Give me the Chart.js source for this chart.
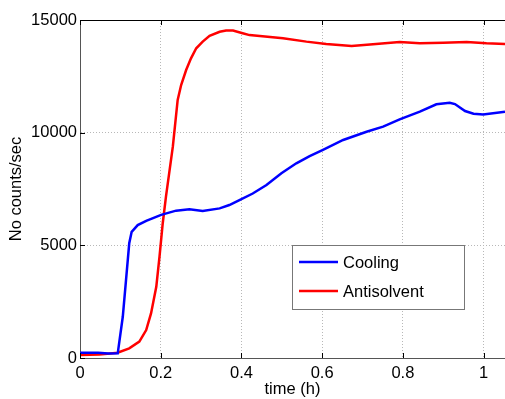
<!doctype html>
<html>
<head>
  <meta charset="utf-8" />
  <title>Counts vs time</title>
  <script src="https://cdn.jsdelivr.net/npm/chart.js"></script>
  <style>
    html, body { margin: 0; padding: 0; background: #fff; }
    #wrap { width: 505px; height: 399px; }
  </style>
</head>
<body>
  <div id="wrap"><canvas id="chart" width="505" height="399"></canvas></div>

  <script>
    // values
    const coolingTime = [0, 0.045, 0.07, 0.0935, 0.106, 0.114, 0.122, 0.128, 0.143, 0.164, 0.201, 0.238, 0.271, 0.304, 0.346, 0.37, 0.395, 0.428, 0.462, 0.499, 0.536, 0.569, 0.602, 0.652, 0.71, 0.751, 0.792, 0.842, 0.883, 0.916, 0.929, 0.954, 0.975, 0.999, 1.053];
    const coolingCounts = [230, 230, 195, 205, 1830, 3460, 5090, 5600, 5900, 6090, 6350, 6540, 6600, 6520, 6640, 6790, 7010, 7300, 7680, 8200, 8640, 8960, 9240, 9675, 10040, 10270, 10590, 10930, 11260, 11330, 11270, 10960, 10840, 10810, 10930];

    const antiTime = [0, 0.048, 0.093, 0.122, 0.147, 0.164, 0.176, 0.189, 0.197, 0.205, 0.213, 0.23, 0.242, 0.2506, 0.263, 0.275, 0.288, 0.304, 0.321, 0.346, 0.362, 0.379, 0.403, 0.42, 0.503, 0.561, 0.61, 0.673, 0.726, 0.792, 0.842, 0.9, 0.958, 1.007, 1.053];
    const antiCounts = [133, 150, 235, 430, 725, 1240, 1980, 3160, 4500, 5980, 7160, 9380, 11450, 12115, 12780, 13300, 13745, 14040, 14300, 14480, 14530, 14530, 14410, 14330, 14190, 14040, 13935, 13850, 13920, 14020, 13965, 13990, 14020, 13965, 13935];

    const seriesNames = ["Cooling", "Antisolvent"];
    const seriesColors = ["#0000ff", "#ff0000"];

    const xTicks = [0, 0.2, 0.4, 0.6, 0.8, 1];
    const yTicks = [0, 5000, 10000, 15000];

    const toPoints = (xs, ys) => xs.map((x, i) => ({ x: x, y: ys[i] }));

    const font = { family: "Arial, 'Liberation Sans', sans-serif", size: 16.5 };

    // box top line, inward tick marks and the legend inside the plot
    const matlabBox = {
      id: "matlabBox",
      afterDatasetsDraw(chart) {
        const { ctx, chartArea: a, scales } = chart;
        ctx.save();
        ctx.strokeStyle = "#000";
        ctx.lineWidth = 1;
        ctx.beginPath();
        ctx.moveTo(a.left, a.top + 0.5);
        ctx.lineTo(a.right, a.top + 0.5);
        xTicks.forEach(t => {
          const px = Math.round(scales.x.getPixelForValue(t)) + 0.5;
          ctx.moveTo(px, a.top); ctx.lineTo(px, a.top + 5);
          ctx.moveTo(px, a.bottom); ctx.lineTo(px, a.bottom - 5);
        });
        yTicks.forEach(v => {
          const py = Math.round(scales.y.getPixelForValue(v)) + 0.5;
          ctx.moveTo(a.left, py); ctx.lineTo(a.left + 5, py);
        });
        ctx.stroke();

        // legend box
        const lx = 292, ly = 245, lw = 172, lh = 64;
        ctx.fillStyle = "#fff";
        ctx.fillRect(lx, ly, lw, lh);
        ctx.strokeStyle = "#777";
        ctx.strokeRect(lx + 0.5, ly + 0.5, lw, lh);
        ctx.font = font.size + "px " + font.family;
        ctx.textBaseline = "middle";
        ctx.fillStyle = "#000";
        chart.data.datasets.forEach((ds, i) => {
          const yy = ly + 17 + i * 29;
          ctx.strokeStyle = ds.borderColor;
          ctx.lineWidth = 2.5;
          ctx.beginPath();
          ctx.moveTo(299, yy);
          ctx.lineTo(338, yy);
          ctx.stroke();
          ctx.fillText(ds.label, 343, yy + 1);
        });
        ctx.restore();
      }
    };

    new Chart(document.getElementById("chart"), {
      type: "line",
      data: {
        datasets: [
          { label: seriesNames[0], data: toPoints(coolingTime, coolingCounts), borderColor: seriesColors[0], borderWidth: 2.5, pointRadius: 0, tension: 0 },
          { label: seriesNames[1], data: toPoints(antiTime, antiCounts), borderColor: seriesColors[1], borderWidth: 2.5, pointRadius: 0, tension: 0 }
        ]
      },
      options: {
        responsive: false,
        animation: false,
        layout: { padding: { top: 20, right: 0, bottom: 0, left: 0 } },
        plugins: { legend: { display: false }, tooltip: { enabled: false } },
        scales: {
          x: {
            type: "linear",
            min: 0,
            max: 1.053,
            afterFit: s => { s.height = 41; },
            afterBuildTicks: s => { s.ticks = xTicks.map(v => ({ value: v })); },
            ticks: { color: "#000", font: font, padding: 6, maxRotation: 0, includeBounds: false, callback: v => String(v) },
            grid: { color: "#b8b8b8", drawTicks: false },
            border: { color: "#555", width: 1, dash: [1, 2] },
            title: { display: true, text: "time (h)", color: "#000", font: font, padding: { top: 0, bottom: 0 } }
          },
          y: {
            type: "linear",
            min: 0,
            max: 15000,
            afterFit: s => { s.width = 80; },
            afterBuildTicks: s => { s.ticks = yTicks.map(v => ({ value: v })); },
            ticks: { color: "#000", font: font, padding: 3, callback: v => String(v) },
            grid: { color: "#b8b8b8", drawTicks: false },
            border: { color: "#555", width: 1, dash: [1, 2] },
            title: { display: true, text: "No counts/sec", color: "#000", font: font, padding: { top: 7, bottom: 0 } }
          }
        }
      },
      plugins: [matlabBox]
    });
  </script>
</body>
</html>
